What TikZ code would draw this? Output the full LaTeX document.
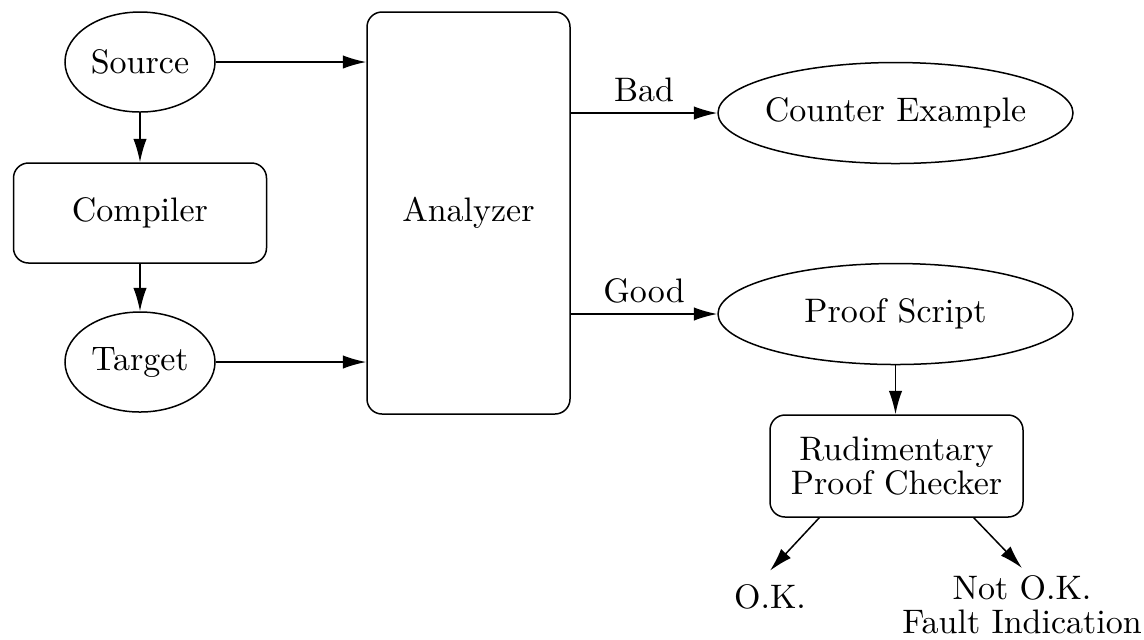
\documentclass[tikz,border=0pt]{standalone}
\usetikzlibrary{shapes.geometric,arrows.meta}
\begin{document}
\begin{tikzpicture}[x=0.3pt,y=-0.3pt,
  every node/.style={font=\fontsize{10.2}{10.3}\selectfont},
  ell/.style={draw,ellipse,inner sep=0pt,line width=0.45pt},
  box/.style={draw,rectangle,rounded corners=4.5pt,inner sep=0pt,line width=0.45pt,align=center},
  lbl/.style={inner sep=0pt,align=center},
  conn/.style={line width=0.45pt,-{Latex[length=7pt,width=4pt]}}]
\useasboundingbox (0,0) rectangle (1144,639);
\node[ell,minimum width=45pt,minimum height=30pt] (src) at (140,62) {Source};
\node[box,minimum width=75.9pt,minimum height=30pt] (comp) at (140,213) {Compiler};
\node[ell,minimum width=45pt,minimum height=30pt] (tgt) at (140,362) {Target};
\node[box,minimum width=60.9pt,minimum height=120.6pt] (an) at (468.5,213) {Analyzer};
\node[ell,minimum width=106.5pt,minimum height=30.3pt] (ce) at (895.5,113) {\makebox[0pt]{Counter Example}};
\node[ell,minimum width=106.5pt,minimum height=30.3pt] (ps) at (895.5,314) {\makebox[0pt]{Proof Script}};
\node[box,minimum width=75.9pt,minimum height=30.6pt] (rpc) at (896.5,466) {Rudimentary\\Proof Checker};
\node[lbl,inner sep=4pt] (ok) at (770,597) {O.K.};
\node[lbl,inner sep=2pt,anchor=north] (nok) at (1022,568) {Not O.K.\\Fault Indication};
\draw[conn] (src) -- (comp);
\draw[conn] (comp) -- (tgt);
\draw[conn] (src.east) -- (src.east -| an.west);
\draw[conn] (tgt.east) -- (tgt.east -| an.west);
\draw[conn] (ce.west -| an.east) -- node[above,inner sep=3pt] (bad) {Bad} (ce.west);
\draw[conn] (ps.west -| an.east) -- node[above,inner sep=3pt] (good) {Good} (ps.west);
\draw[conn] (ps.south) -- (ps.south |- rpc.north);
\draw[conn] ([xshift=15pt]rpc.south west) -- (ok.north);
\draw[conn] ([xshift=-15pt]rpc.south east) -- (nok.north);
\end{tikzpicture}
\end{document}
